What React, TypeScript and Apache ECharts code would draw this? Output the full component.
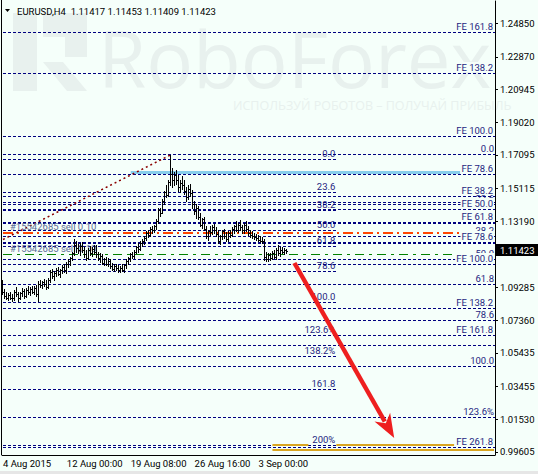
import React, { useEffect, useRef } from "react";
import * as echarts from "echarts";

// ---------- data ----------
const chartTitle = "EURUSD,H4  1.11417 1.11453 1.11409 1.11423";
const timeLabels = ["4 Aug 2015", "12 Aug 00:00", "19 Aug 08:00", "26 Aug 16:00", "3 Sep 00:00"];
const timeLabelBars = [0, 32, 64, 96, 128];
const slotCount = 247;
const priceTicks = [1.2485, 1.2287, 1.20945, 1.1902, 1.17095, 1.15115, 1.1319, 1.09285, 1.0736, 1.05435, 1.03455, 1.0153, 0.99605];
const lastPrice = 1.11423;

// H4 bars: [open, high, low, close]
const barsOHLC: number[][] = [
  [1.0930, 1.0975, 1.0890, 1.0905], [1.0905, 1.0920, 1.0870, 1.0880], [1.0880, 1.0900, 1.0860, 1.0870],
  [1.0870, 1.0895, 1.0855, 1.0885], [1.0885, 1.0905, 1.0862, 1.0870], [1.0870, 1.0890, 1.0850, 1.0865],
  [1.0865, 1.0915, 1.0858, 1.0905], [1.0905, 1.0930, 1.0880, 1.0890], [1.0890, 1.0900, 1.0852, 1.0868],
  [1.0868, 1.0905, 1.0860, 1.0895], [1.0895, 1.0925, 1.0880, 1.0910], [1.0910, 1.0920, 1.0870, 1.0880],
  [1.0880, 1.0925, 1.0872, 1.0915], [1.0915, 1.0935, 1.0890, 1.0900], [1.0900, 1.0930, 1.0885, 1.0920],
  [1.0920, 1.0940, 1.0895, 1.0905], [1.0905, 1.0935, 1.0890, 1.0925], [1.0925, 1.0945, 1.0880, 1.0890],
  [1.0890, 1.0965, 1.0850, 1.0950], [1.0950, 1.0975, 1.0930, 1.0945], [1.0945, 1.0970, 1.0925, 1.0960],
  [1.0960, 1.0980, 1.0935, 1.0950], [1.0950, 1.0975, 1.0920, 1.0930], [1.0930, 1.0985, 1.0925, 1.0975],
  [1.0975, 1.1030, 1.0960, 1.1020], [1.1020, 1.1040, 1.0985, 1.0995], [1.0995, 1.1025, 1.0975, 1.1015],
  [1.1015, 1.1045, 1.0995, 1.1030], [1.1030, 1.1050, 1.1000, 1.1010], [1.1010, 1.1040, 1.0990, 1.1035],
  [1.1035, 1.1060, 1.1015, 1.1050], [1.1050, 1.1065, 1.1020, 1.1030], [1.1030, 1.1080, 1.1015, 1.1070],
  [1.1070, 1.1095, 1.1050, 1.1085], [1.1085, 1.1110, 1.1060, 1.1100], [1.1100, 1.1140, 1.1090, 1.1130],
  [1.1130, 1.1215, 1.1120, 1.1180], [1.1180, 1.1200, 1.1140, 1.1160], [1.1160, 1.1185, 1.1130, 1.1150],
  [1.1150, 1.1190, 1.1120, 1.1175], [1.1175, 1.1195, 1.1140, 1.1150], [1.1150, 1.1170, 1.1110, 1.1125],
  [1.1125, 1.1150, 1.1090, 1.1105], [1.1105, 1.1160, 1.1095, 1.1150], [1.1150, 1.1175, 1.1120, 1.1135],
  [1.1135, 1.1165, 1.1115, 1.1155], [1.1155, 1.1180, 1.1125, 1.1140], [1.1140, 1.1180, 1.1110, 1.1125],
  [1.1125, 1.1140, 1.1090, 1.1100], [1.1100, 1.1130, 1.1080, 1.1115], [1.1115, 1.1125, 1.1065, 1.1075],
  [1.1075, 1.1105, 1.1060, 1.1095], [1.1095, 1.1110, 1.1060, 1.1070], [1.1070, 1.1100, 1.1055, 1.1085],
  [1.1085, 1.1095, 1.1045, 1.1055], [1.1055, 1.1075, 1.1030, 1.1040], [1.1040, 1.1065, 1.1025, 1.1055],
  [1.1055, 1.1070, 1.1035, 1.1045], [1.1045, 1.1060, 1.1020, 1.1030], [1.1030, 1.1055, 1.1018, 1.1045],
  [1.1045, 1.1065, 1.1025, 1.1035], [1.1035, 1.1070, 1.1020, 1.1060], [1.1060, 1.1095, 1.1045, 1.1085],
  [1.1085, 1.1110, 1.1070, 1.1100], [1.1100, 1.1135, 1.1085, 1.1125], [1.1125, 1.1140, 1.1100, 1.1115],
  [1.1115, 1.1150, 1.1105, 1.1140], [1.1140, 1.1175, 1.1130, 1.1165], [1.1165, 1.1190, 1.1140, 1.1155],
  [1.1155, 1.1200, 1.1150, 1.1190], [1.1190, 1.1215, 1.1175, 1.1205], [1.1205, 1.1230, 1.1185, 1.1220],
  [1.1220, 1.1260, 1.1210, 1.1250], [1.1250, 1.1270, 1.1225, 1.1240], [1.1240, 1.1285, 1.1235, 1.1275],
  [1.1275, 1.1290, 1.1250, 1.1265], [1.1265, 1.1300, 1.1255, 1.1290], [1.1290, 1.1330, 1.1275, 1.1320],
  [1.1320, 1.1395, 1.1310, 1.1385], [1.1385, 1.1400, 1.1350, 1.1370], [1.1370, 1.1450, 1.1365, 1.1440],
  [1.1440, 1.1500, 1.1420, 1.1490], [1.1490, 1.1530, 1.1460, 1.1475], [1.1475, 1.1560, 1.1470, 1.1550],
  [1.1550, 1.1710, 1.1530, 1.1600], [1.1600, 1.1630, 1.1520, 1.1560], [1.1560, 1.1610, 1.1530, 1.1590],
  [1.1590, 1.1620, 1.1540, 1.1560], [1.1560, 1.1590, 1.1500, 1.1520], [1.1520, 1.1560, 1.1490, 1.1545],
  [1.1545, 1.1585, 1.1510, 1.1530], [1.1530, 1.1560, 1.1480, 1.1500], [1.1500, 1.1520, 1.1440, 1.1460],
  [1.1460, 1.1530, 1.1450, 1.1510], [1.1510, 1.1540, 1.1470, 1.1485], [1.1485, 1.1505, 1.1400, 1.1420],
  [1.1420, 1.1440, 1.1360, 1.1380], [1.1380, 1.1420, 1.1340, 1.1400], [1.1400, 1.1410, 1.1330, 1.1345],
  [1.1345, 1.1365, 1.1290, 1.1300], [1.1300, 1.1340, 1.1280, 1.1330], [1.1330, 1.1345, 1.1265, 1.1275],
  [1.1275, 1.1290, 1.1220, 1.1235], [1.1235, 1.1270, 1.1210, 1.1260], [1.1260, 1.1290, 1.1240, 1.1255],
  [1.1255, 1.1300, 1.1245, 1.1285], [1.1285, 1.1305, 1.1250, 1.1265], [1.1265, 1.1285, 1.1235, 1.1245],
  [1.1245, 1.1265, 1.1190, 1.1200], [1.1200, 1.1240, 1.1185, 1.1230], [1.1230, 1.1270, 1.1215, 1.1260],
  [1.1260, 1.1275, 1.1220, 1.1235], [1.1235, 1.1255, 1.1200, 1.1215], [1.1215, 1.1260, 1.1205, 1.1250],
  [1.1250, 1.1270, 1.1225, 1.1240], [1.1240, 1.1285, 1.1230, 1.1275], [1.1275, 1.1300, 1.1250, 1.1290],
  [1.1290, 1.1320, 1.1260, 1.1270], [1.1270, 1.1310, 1.1255, 1.1300], [1.1300, 1.1325, 1.1270, 1.1285],
  [1.1285, 1.1300, 1.1250, 1.1265], [1.1265, 1.1310, 1.1250, 1.1295], [1.1295, 1.1320, 1.1260, 1.1275],
  [1.1275, 1.1290, 1.1240, 1.1250], [1.1250, 1.1270, 1.1225, 1.1240], [1.1240, 1.1260, 1.1220, 1.1230],
  [1.1230, 1.1250, 1.1215, 1.1225], [1.1225, 1.1245, 1.1210, 1.1220], [1.1220, 1.1240, 1.1200, 1.1210],
  [1.1210, 1.1230, 1.1195, 1.1205], [1.1205, 1.1225, 1.1190, 1.1200], [1.1200, 1.1215, 1.1090, 1.1110],
  [1.1110, 1.1140, 1.1085, 1.1095], [1.1095, 1.1130, 1.1085, 1.1120], [1.1120, 1.1135, 1.1090, 1.1100],
  [1.1100, 1.1145, 1.1095, 1.1135], [1.1135, 1.1150, 1.1100, 1.1110], [1.1110, 1.1160, 1.1095, 1.1150],
  [1.1150, 1.1180, 1.1120, 1.1135], [1.1135, 1.1165, 1.1115, 1.1150], [1.1150, 1.1170, 1.1130, 1.1140],
  [1.1140, 1.1160, 1.1125, 1.1150], [1.1150, 1.1155, 1.1135, 1.11423],
];

// Fibonacci retracement (left, ends mid-chart)
const leftFibLabels = ["0.0", "23.6", "38.2", "50.0", "61.8", "78.6", "100.0", "123.6%", "138.2%", "161.8", "200%"];
const leftFibPrices = [1.16829, 1.14885, 1.13796, 1.12647, 1.11676, 1.10233, 1.08395, 1.06493, 1.05256, 1.03254, 0.99985];
const leftFibEndBar = 167;
// Fibonacci retracement (right, full width)
const rightFibLabels = ["0.0", "23.6", "38.2", "50.0", "61.8", "78.6", "100.0", "123.6%"];
const rightFibPrices = [1.17094, 1.14179, 1.12294, 1.1091, 1.09467, 1.07318, 1.04626, 1.01646];
// Fibonacci expansions
const feLowerLabels = ["FE 38.2", "FE 50.0", "FE 61.8", "FE 78.6", "FE 100.0", "FE 138.2", "FE 161.8", "FE 261.8"];
const feLowerPrices = [1.14638, 1.13855, 1.13107, 1.11929, 1.10616, 1.08083, 1.06493, 0.99897];
const feUpperLabels = ["FE 78.6", "FE 100.0", "FE 138.2", "FE 161.8"];
const feUpperPrices = [1.15957, 1.18154, 1.21905, 1.24296];
const extraLinePrices = [1.14308, 1.05904];

// order lines and annotations
const orderLabel = "#15542685 sell 0.10";
const orderLinePrices = [1.12518, 1.11205];
const orderLineEndBars = [229, 225];
const zoneBandPrice = 1.16063;
const zoneBandBars = [64, 229];
const trendFrom = [0, 1.12117];
const trendTo = [84, 1.171];
const arrowFrom = [146, 1.10733];
const arrowTo = [196, 1.00427];
const targetTopPrice = 1.00044;
const targetBottomPrice = 0.9972;
const targetTopBars = [[135, 153], [167, 226]];
const targetBottomBars = [135, 246];

// ---------- styles ----------
const FONT = "Roboto";
const BG = "#f5fffa";
const NAVY = "#000080";
const LABEL_COLOR = "#1e1e80";
const WM = "#e8f1ee";
const Y_MIN = 0.99426;
const Y_MAX = 1.26163;
const FS = 9.5;

type Level = { price: number; label: string; end: number; width: number; bg: boolean };
const FULL = slotCount - 1;
const levelDefs: Level[] = [
  ...extraLinePrices.map((p) => ({ price: p, label: "", end: FULL, width: 1, bg: false })),
  ...leftFibPrices.map((p, i) => ({ price: p, label: leftFibLabels[i], end: leftFibEndBar, width: 1, bg: false })),
  ...rightFibPrices.map((p, i) => ({ price: p, label: rightFibLabels[i], end: FULL, width: 1, bg: false })),
  ...feUpperPrices.map((p, i) => ({ price: p, label: feUpperLabels[i], end: FULL, width: 1, bg: true })),
  ...feLowerPrices.map((p, i) => ({ price: p, label: feLowerLabels[i], end: FULL, width: i === 2 || i === 3 ? 2 : 1, bg: true })),
];

type Seg = { x0: number; p0: number; x1: number; p1: number; color: string; width: number; dash: number[] | null; label?: string; fromEdge?: boolean };
const segDefs: Seg[] = [
  { x0: zoneBandBars[0], p0: zoneBandPrice, x1: zoneBandBars[1], p1: zoneBandPrice, color: "#87ceeb", width: 3, dash: null },
  { x0: 0, p0: orderLinePrices[0], x1: orderLineEndBars[0], p1: orderLinePrices[0], color: "#ff4500", width: 2, dash: [10, 4, 2, 4], label: orderLabel, fromEdge: true },
  { x0: 0, p0: orderLinePrices[1], x1: orderLineEndBars[1], p1: orderLinePrices[1], color: "#008000", width: 1, dash: [9, 5, 3, 5], label: orderLabel, fromEdge: true },
  { x0: trendFrom[0], p0: trendFrom[1], x1: trendTo[0], p1: trendTo[1], color: "#8b0000", width: 1.5, dash: [2, 3], fromEdge: true },
  ...targetTopBars.map((b) => ({ x0: b[0], p0: targetTopPrice, x1: b[1], p1: targetTopPrice, color: "#daa520", width: 2, dash: null })),
  { x0: targetBottomBars[0], p0: targetBottomPrice, x1: targetBottomBars[1], p1: targetBottomPrice, color: "#daa520", width: 2, dash: null },
];

const categories = Array.from({ length: slotCount }, (_, i) => {
  const k = timeLabelBars.indexOf(i);
  return k >= 0 ? timeLabels[k] : "";
});
const isLabelBar = (i: number) => timeLabelBars.indexOf(i) >= 0;

const snap = (v: number, w: number) => (Math.round(w) % 2 === 1 ? Math.floor(v) + 0.5 : Math.round(v));

function buildOption(): any {
  return {
    animation: false,
    backgroundColor: BG,
    textStyle: { fontFamily: FONT },
    grid: { left: 1, right: 43, top: 1, bottom: 19, containLabel: false },
    xAxis: {
      type: "category",
      data: categories,
      boundaryGap: true,
      axisLine: { onZero: false, lineStyle: { color: "#000", width: 1 } },
      axisTick: { alignWithLabel: true, interval: (i: number) => isLabelBar(i), length: 4, lineStyle: { color: "#000" } },
      axisLabel: { interval: (i: number) => isLabelBar(i), align: "left", margin: 3, color: "#000", fontSize: FS, fontFamily: FONT },
      splitLine: { show: false },
    },
    yAxis: {
      type: "value",
      position: "right",
      min: Y_MIN,
      max: Y_MAX,
      axisLine: { show: true, lineStyle: { color: "#000" } },
      axisTick: { show: true, length: 3, customValues: priceTicks, lineStyle: { color: "#000" } },
      axisLabel: { customValues: priceTicks, formatter: (v: number) => v.toFixed(5), margin: 5, color: "#000", fontSize: FS, fontFamily: FONT },
      splitLine: { show: false },
    },
    graphic: [
      { type: "rect", z: 0, shape: { x: 13, y: 13, width: 24, height: 78 }, style: { fill: WM } },
      { type: "rect", z: 0, shape: { x: 43, y: 13, width: 44, height: 24 }, style: { fill: WM } },
      { type: "rect", z: 0, shape: { x: 65, y: 37, width: 22, height: 20 }, style: { fill: WM } },
      { type: "polygon", z: 0, shape: { points: [[43, 62], [63, 62], [87, 91], [67, 91]] }, style: { fill: WM } },
      {
        type: "text", z: 0, x: 98, y: 58,
        style: { text: "RoboForex", fontSize: 78, fontFamily: "Open Sans", fill: WM, verticalAlign: "middle", align: "left" },
      },
      {
        type: "text", z: 0, x: 233, y: 105,
        style: { text: "ИСПОЛЬЗУЙ РОБОТОВ – ПОЛУЧАЙ ПРИБЫЛЬ", fontSize: 12.5, fontFamily: "Open Sans", fill: WM, verticalAlign: "middle" },
      },
      { type: "polygon", z: 10, shape: { points: [[5, 9], [10, 9], [7.5, 12]] }, style: { fill: "#000" } },
      {
        type: "text", z: 10, x: 17, y: 11,
        style: { text: chartTitle, fontSize: FS, fontFamily: FONT, fill: "#000", verticalAlign: "middle" },
      },
      { type: "line", z: 10, shape: { x1: 1.5, y1: 0, x2: 1.5, y2: 455 }, style: { stroke: "#000", lineWidth: 1 } },
      { type: "rect", z: 10, shape: { x: 0, y: 471, width: 538, height: 3 }, style: { fill: "#e6e6e6" } },
    ],
    series: [
      {
        type: "custom",
        name: "levels",
        silent: true,
        clip: false,
        z: 2,
        data: levelDefs.map((l) => [l.end, l.price]),
        encode: { x: 0, y: 1 },
        renderItem: (params: any, api: any) => {
          const d = levelDefs[params.dataIndex];
          const cs = params.coordSys;
          const pt = api.coord([api.value(0), api.value(1)]);
          const y = snap(pt[1], d.width);
          const xs = cs.x + 1;
          const xe = d.end >= FULL ? cs.x + cs.width : pt[0];
          const children: any[] = [
            { type: "line", shape: { x1: xs, y1: y, x2: xe, y2: y }, style: { stroke: NAVY, lineWidth: d.width, lineDash: [3, 2] } },
          ];
          if (d.label) {
            const st: any = {
              text: d.label, fill: LABEL_COLOR, fontSize: FS, fontFamily: FONT,
              align: "right", verticalAlign: "bottom",
            };
            if (d.bg) { st.backgroundColor = BG; st.padding = [0, 1, 0, 1]; }
            children.push({ type: "text", x: xe - 1, y: y - 1 - d.width / 2, style: st });
          }
          return { type: "group", children };
        },
      },
      {
        type: "custom",
        name: "overlays",
        silent: true,
        clip: false,
        z: 3,
        data: segDefs.map((s) => [s.x0, s.p0, s.x1, s.p1]),
        encode: { x: [0, 2], y: [1, 3] },
        renderItem: (params: any, api: any) => {
          const s = segDefs[params.dataIndex];
          const cs = params.coordSys;
          const a = api.coord([api.value(0), api.value(1)]);
          const b = api.coord([api.value(2), api.value(3)]);
          const x0 = s.fromEdge ? cs.x + 1 : a[0];
          let y0 = a[1];
          let y1 = b[1];
          if (s.p0 === s.p1) { y0 = snap(y0, s.width); y1 = y0; }
          const style: any = { stroke: s.color, lineWidth: s.width };
          if (s.dash) style.lineDash = s.dash;
          const children: any[] = [{ type: "line", shape: { x1: x0, y1: y0, x2: b[0], y2: y1 }, style }];
          if (s.label) {
            children.push({
              type: "text", x: x0 + 7, y: y0 - 0.5 - s.width / 2, z2: 20,
              style: { text: s.label, fill: "#5d6d96", fontSize: FS, fontFamily: FONT, align: "left", verticalAlign: "bottom" },
            });
          }
          return { type: "group", children };
        },
      },
      {
        type: "custom",
        name: "EURUSD",
        silent: true,
        z: 4,
        data: barsOHLC.map((b, i) => [i, b[0], b[1], b[2], b[3]]),
        encode: { x: 0, y: [1, 2, 3, 4] },
        renderItem: (params: any, api: any) => {
          const i = api.value(0);
          const h = api.coord([i, api.value(2)]);
          const l = api.coord([i, api.value(3)]);
          const c = api.coord([i, api.value(4)]);
          const x = Math.floor(h[0]) + 0.5;
          const yc = Math.round(c[1]) + 0.5;
          const st = { stroke: "#000", lineWidth: 1 };
          return {
            type: "group",
            children: [
              { type: "line", shape: { x1: x, y1: Math.round(h[1]), x2: x, y2: Math.round(l[1]) + 1 }, style: st },
              { type: "line", shape: { x1: x + 0.5, y1: yc, x2: x + 1.5, y2: yc }, style: st },
            ],
          };
        },
      },
      {
        type: "custom",
        name: "arrow",
        silent: true,
        clip: false,
        z: 5,
        data: [[arrowFrom[0], arrowFrom[1], arrowTo[0], arrowTo[1]]],
        encode: { x: [0, 2], y: [1, 3] },
        renderItem: (params: any, api: any) => {
          const a = api.coord([api.value(0), api.value(1)]);
          const b = api.coord([api.value(2), api.value(3)]);
          const dx = b[0] - a[0];
          const dy = b[1] - a[1];
          const len = Math.hypot(dx, dy);
          const ux = dx / len, uy = dy / len;
          const px = -uy, py = ux;
          const headLen = 24, headHalf = 9, notch = 17;
          const base = [b[0] - ux * headLen, b[1] - uy * headLen];
          const n = [b[0] - ux * notch, b[1] - uy * notch];
          const red = "#ee1f1f";
          return {
            type: "group",
            children: [
              { type: "line", shape: { x1: a[0], y1: a[1], x2: n[0] - ux * 2, y2: n[1] - uy * 2 }, style: { stroke: red, lineWidth: 4.5 } },
              {
                type: "polygon",
                shape: { points: [[b[0], b[1]], [base[0] + px * headHalf, base[1] + py * headHalf], [n[0], n[1]], [base[0] - px * headHalf, base[1] - py * headHalf]] },
                style: { fill: red },
              },
            ],
          };
        },
      },
      {
        type: "custom",
        name: "price",
        silent: true,
        clip: false,
        z: 6,
        data: [[barsOHLC.length - 1, lastPrice]],
        encode: { x: 0, y: 1 },
        renderItem: (params: any, api: any) => {
          const cs = params.coordSys;
          const p = api.coord([api.value(0), api.value(1)]);
          const y = Math.round(p[1]);
          const x = cs.x + cs.width + 1;
          return {
            type: "group",
            children: [
              { type: "rect", shape: { x, y: y - 7, width: 538 - x, height: 12 }, style: { fill: "#000" } },
              {
                type: "text", x: x + 4, y: y - 1,
                style: { text: lastPrice.toFixed(5), fill: "#fff", fontSize: FS, fontFamily: FONT, align: "left", verticalAlign: "middle" },
              },
            ],
          };
        },
      },
    ],
  };
}

export default function App() {
  const ref = useRef<HTMLDivElement>(null);
  useEffect(() => {
    document.body.style.margin = "0";
    const chart = echarts.init(ref.current!, null, { renderer: "svg" });
    chart.setOption(buildOption());
    return () => chart.dispose();
  }, []);
  return <div ref={ref} style={{ width: 538, height: 474, background: BG }} />;
}
